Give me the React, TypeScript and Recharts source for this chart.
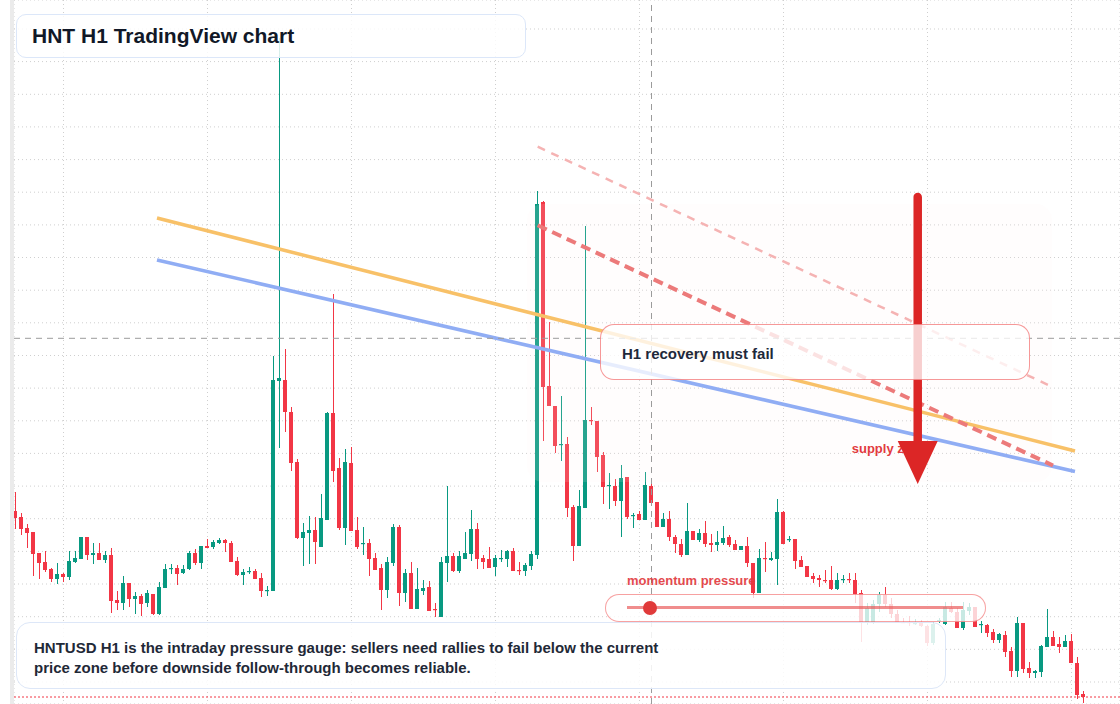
import React from 'react'
import {
  ComposedChart,
  Bar,
  XAxis,
  YAxis,
  CartesianGrid,
  ReferenceLine,
  ReferenceArea,
  ReferenceDot,
} from 'recharts'

// HNTUSD 1h candles (oldest -> newest)
const opens = [
  2.189, 2.183, 2.172, 2.168, 2.147, 2.138, 2.131, 2.121, 2.126, 2.123,
  2.138, 2.141, 2.163, 2.145, 2.147, 2.14, 2.145, 2.1, 2.097, 2.117,
  2.101, 2.104, 2.097, 2.106, 2.086, 2.112, 2.131, 2.132, 2.127, 2.131,
  2.147, 2.137, 2.154, 2.153, 2.157, 2.16, 2.157, 2.139, 2.125, 2.128,
  2.129, 2.122, 2.109, 2.109, 2.319, 2.32, 2.288, 2.238, 2.162, 2.167,
  2.17, 2.153, 2.18, 2.287, 2.232, 2.172, 2.237, 2.17, 2.156, 2.157,
  2.142, 2.132, 2.11, 2.137, 2.173, 2.107, 2.127, 2.091, 2.109, 2.113,
  2.091, 2.083, 2.137, 2.144, 2.129, 2.141, 2.146, 2.171, 2.142, 2.141,
  2.133, 2.141, 2.141, 2.149, 2.13, 2.129, 2.134, 2.145, 2.498, 2.314,
  2.294, 2.255, 2.256, 2.193, 2.154, 2.192, 2.28, 2.279, 2.245, 2.214,
  2.214, 2.199, 2.223, 2.184, 2.186, 2.18, 2.214, 2.198, 2.173, 2.181,
  2.163, 2.156, 2.145, 2.169, 2.16, 2.167, 2.157, 2.155, 2.157, 2.163,
  2.156, 2.15, 2.154, 2.137, 2.107, 2.142, 2.14, 2.141, 2.188, 2.16,
  2.161, 2.14, 2.134, 2.124, 2.122, 2.12, 2.12, 2.111, 2.12, 2.121,
  2.12, 2.107, 2.077, 2.078, 2.096, 2.105, 2.096, 2.086, 2.078, 2.078,
  2.076, 2.077, 2.074, 2.057, 2.079, 2.076, 2.092, 2.088, 2.072, 2.089,
  2.093, 2.075, 2.075, 2.068, 2.06, 2.065, 2.049, 2.029, 2.077, 2.032,
  2.027, 2.028, 2.053, 2.063, 2.056, 2.053, 2.059, 2.037, 2.006,
]
const highs = [
  2.208, 2.187, 2.176, 2.168, 2.147, 2.149, 2.132, 2.137, 2.127, 2.149,
  2.149, 2.163, 2.163, 2.157, 2.157, 2.149, 2.152, 2.109, 2.124, 2.117,
  2.108, 2.106, 2.11, 2.106, 2.118, 2.136, 2.136, 2.135, 2.135, 2.149,
  2.151, 2.154, 2.161, 2.16, 2.162, 2.161, 2.159, 2.143, 2.131, 2.133,
  2.131, 2.127, 2.114, 2.344, 2.662, 2.351, 2.293, 2.241, 2.177, 2.184,
  2.183, 2.206, 2.288, 2.406, 2.242, 2.251, 2.253, 2.183, 2.173, 2.161,
  2.147, 2.136, 2.143, 2.176, 2.175, 2.131, 2.138, 2.132, 2.12, 2.119,
  2.097, 2.143, 2.214, 2.147, 2.149, 2.168, 2.19, 2.177, 2.145, 2.153,
  2.145, 2.15, 2.15, 2.152, 2.138, 2.137, 2.149, 2.509, 2.499, 2.378,
  2.294, 2.304, 2.263, 2.195, 2.21, 2.474, 2.293, 2.279, 2.248, 2.227,
  2.221, 2.235, 2.223, 2.187, 2.189, 2.228, 2.217, 2.198, 2.187, 2.189,
  2.165, 2.161, 2.197, 2.169, 2.171, 2.179, 2.166, 2.169, 2.174, 2.165,
  2.16, 2.154, 2.163, 2.137, 2.151, 2.158, 2.148, 2.201, 2.189, 2.164,
  2.161, 2.144, 2.134, 2.127, 2.125, 2.13, 2.134, 2.127, 2.125, 2.127,
  2.127, 2.11, 2.097, 2.1, 2.108, 2.113, 2.102, 2.09, 2.082, 2.084,
  2.081, 2.08, 2.075, 2.078, 2.082, 2.098, 2.098, 2.092, 2.098, 2.097,
  2.093, 2.079, 2.076, 2.071, 2.067, 2.069, 2.053, 2.083, 2.077, 2.038,
  2.03, 2.055, 2.091, 2.069, 2.063, 2.065, 2.066, 2.043, 2.009,
]
const lows = [
  2.171, 2.165, 2.152, 2.124, 2.121, 2.128, 2.118, 2.116, 2.118, 2.12,
  2.137, 2.141, 2.14, 2.136, 2.14, 2.137, 2.087, 2.09, 2.09, 2.093,
  2.086, 2.084, 2.093, 2.085, 2.085, 2.112, 2.126, 2.115, 2.126, 2.13,
  2.135, 2.131, 2.152, 2.151, 2.156, 2.148, 2.138, 2.124, 2.115, 2.126,
  2.121, 2.103, 2.104, 2.109, 2.252, 2.268, 2.229, 2.161, 2.134, 2.136,
  2.136, 2.153, 2.18, 2.218, 2.17, 2.155, 2.169, 2.151, 2.145, 2.124,
  2.13, 2.09, 2.102, 2.134, 2.094, 2.098, 2.091, 2.091, 2.105, 2.089,
  2.083, 2.083, 2.118, 2.128, 2.127, 2.141, 2.139, 2.131, 2.131, 2.132,
  2.124, 2.138, 2.133, 2.129, 2.125, 2.124, 2.13, 2.141, 2.259, 2.294,
  2.247, 2.239, 2.183, 2.139, 2.154, 2.192, 2.275, 2.228, 2.196, 2.191,
  2.194, 2.163, 2.181, 2.172, 2.18, 2.18, 2.195, 2.173, 2.173, 2.159,
  2.147, 2.143, 2.145, 2.16, 2.158, 2.153, 2.148, 2.149, 2.155, 2.153,
  2.15, 2.15, 2.133, 2.102, 2.107, 2.128, 2.139, 2.115, 2.156, 2.158,
  2.131, 2.133, 2.123, 2.117, 2.113, 2.117, 2.11, 2.11, 2.117, 2.117,
  2.097, 2.058, 2.075, 2.076, 2.088, 2.093, 2.082, 2.077, 2.077, 2.074,
  2.075, 2.073, 2.054, 2.055, 2.077, 2.075, 2.087, 2.072, 2.07, 2.085,
  2.073, 2.067, 2.063, 2.057, 2.057, 2.043, 2.023, 2.023, 2.027, 2.022,
  2.022, 2.023, 2.053, 2.054, 2.047, 2.053, 2.037, 2.001, 1.997,
]
const closes = [
  2.182, 2.171, 2.167, 2.146, 2.137, 2.13, 2.121, 2.126, 2.123, 2.139,
  2.142, 2.163, 2.145, 2.147, 2.14, 2.145, 2.099, 2.097, 2.117, 2.101,
  2.104, 2.096, 2.107, 2.086, 2.113, 2.131, 2.132, 2.126, 2.131, 2.147,
  2.137, 2.154, 2.152, 2.158, 2.16, 2.157, 2.138, 2.125, 2.128, 2.129,
  2.121, 2.109, 2.11, 2.32, 2.322, 2.288, 2.237, 2.162, 2.168, 2.17,
  2.158, 2.182, 2.287, 2.229, 2.172, 2.238, 2.169, 2.153, 2.157, 2.141,
  2.13, 2.11, 2.138, 2.173, 2.107, 2.127, 2.091, 2.111, 2.112, 2.089,
  2.09, 2.138, 2.144, 2.129, 2.144, 2.147, 2.171, 2.141, 2.138, 2.132,
  2.142, 2.142, 2.149, 2.129, 2.129, 2.135, 2.146, 2.496, 2.313, 2.294,
  2.254, 2.256, 2.192, 2.154, 2.194, 2.28, 2.279, 2.243, 2.213, 2.215,
  2.199, 2.222, 2.183, 2.185, 2.18, 2.215, 2.197, 2.173, 2.181, 2.163,
  2.156, 2.145, 2.169, 2.16, 2.167, 2.156, 2.155, 2.158, 2.162, 2.155,
  2.15, 2.154, 2.137, 2.107, 2.142, 2.141, 2.142, 2.188, 2.156, 2.161,
  2.139, 2.133, 2.123, 2.121, 2.12, 2.119, 2.111, 2.12, 2.121, 2.12,
  2.106, 2.078, 2.092, 2.096, 2.105, 2.096, 2.086, 2.078, 2.077, 2.077,
  2.077, 2.074, 2.057, 2.076, 2.08, 2.093, 2.088, 2.072, 2.09, 2.093,
  2.073, 2.076, 2.067, 2.06, 2.066, 2.048, 2.029, 2.077, 2.031, 2.027,
  2.029, 2.054, 2.063, 2.054, 2.053, 2.059, 2.037, 2.005, 2.003,
]

// grid positions (price axis is not labelled in the screenshot)
const priceTicks = [
  2.671, 2.6384, 2.6057, 2.5731, 2.5404, 2.5078, 2.4751, 2.4425, 2.4098, 2.3772, 2.3445,
  2.3119, 2.2792, 2.2466, 2.2139, 2.1813, 2.1486, 2.116, 2.0833, 2.0507, 2.018,
]
const barTicks = [8, 32, 56, 80, 104, 128, 152, 176]

// drawings, in [bar index, price]
const orangeTrend = [[23.58, 2.482], [176.58, 2.249]]
const blueTrend = [[23.58, 2.44], [176.58, 2.2285]]
const supplyTop = [[87.03, 2.5533], [172.75, 2.3133]]
const supplyBottom = [[87.03, 2.4747], [172.92, 2.2345]]
const supplyZone = { x1: 85.25, x2: 172.75, y1: 2.218, y2: 2.496 }
const arrowBar = 150.37
const arrowFrom = 2.503
const arrowTip = 2.216
const zoneLabel = [139.37, 2.247]
const crosshair = { bar: 106, price: 2.3617 }

const candles = opens.map((o, i) => ({
  i,
  open: o,
  high: highs[i],
  low: lows[i],
  close: closes[i],
}))
const lastClose = closes[closes.length - 1]

const UP = '#089981'
const DOWN = '#f23645'
const FONT = '"Liberation Sans", Arial, Helvetica, sans-serif'

function Candle(props: any) {
  let { x, y, width, height, payload } = props
  if (height < 0) {
    y += height
    height = -height
  }
  const { open, close, high, low } = payload
  const color = close >= open ? UP : DOWN
  const span = high - low || 1e-9
  const py = (p: number) => y + ((high - p) / span) * height
  const cx = Math.floor(x + width / 2) + 0.5
  const top = py(Math.max(open, close))
  const bot = py(Math.min(open, close))
  return (
    <g>
      <line x1={cx} x2={cx} y1={y} y2={y + height} stroke={color} strokeWidth={1} />
      <rect x={cx - 2.5} y={top} width={4} height={Math.max(bot - top, 1.2)} fill={color} />
    </g>
  )
}

const seg = (pts: number[][]) => pts.map(([x, y]) => ({ x, y }))

export default function App() {
  return (
    <div style={{ position: 'relative', width: 1120, height: 704, background: '#fff', overflow: 'hidden', fontFamily: FONT }}>
      <style>{'body{margin:0}'}</style>
      <ComposedChart
        width={1120}
        height={704}
        data={candles}
        margin={{ top: 0, right: 0, bottom: 0, left: 14 }}
      >
        <CartesianGrid stroke="#cfcfcf" strokeDasharray="1 3" />
        <XAxis type="number" dataKey="i" domain={[-0.25, 184.0833]} ticks={barTicks} allowDataOverflow hide />
        <YAxis type="number" domain={[1.996, 2.7]} ticks={priceTicks} allowDataOverflow hide />
        <Bar
          dataKey={(d: any) => [d.low, d.high]}
          barSize={4}
          shape={<Candle />}
          isAnimationActive={false}
        />
        <ReferenceArea
          x1={supplyZone.x1}
          x2={supplyZone.x2}
          y1={supplyZone.y1}
          y2={supplyZone.y2}
          fill="#fff2ec"
          fillOpacity={0.13}
          stroke="none"
          radius={16}
          zIndex={350}
        />
        <ReferenceLine segment={seg(orangeTrend)} stroke="#f8c168" strokeWidth={3.5} zIndex={400} />
        <ReferenceLine segment={seg(blueTrend)} stroke="#90adf4" strokeWidth={3.5} zIndex={400} />
        <ReferenceLine segment={seg(supplyTop)} stroke="#f5b3b3" strokeWidth={2.5} strokeDasharray="8 7" zIndex={400} />
        <ReferenceLine segment={seg(supplyBottom)} stroke="#ec7a7a" strokeWidth={4} strokeDasharray="10 6" zIndex={400} />
        <ReferenceLine y={lastClose} stroke={DOWN} strokeDasharray="2 2" strokeWidth={1} zIndex={400} />
        <ReferenceLine x={crosshair.bar} stroke="#9b9b9b" strokeDasharray="6 5" strokeWidth={1} zIndex={450} />
        <ReferenceLine y={crosshair.price} stroke="#9b9b9b" strokeDasharray="6 5" strokeWidth={1} zIndex={450} />
        <ReferenceDot
          x={zoneLabel[0]}
          y={zoneLabel[1]}
          zIndex={500}
          shape={(p: any) => (
            <text x={p.cx} y={p.cy} fill="#e23b3f" fontSize={13} fontWeight={700} fontFamily={FONT}>
              supply zone
            </text>
          )}
        />
        <ReferenceLine
          segment={[{ x: arrowBar, y: arrowFrom }, { x: arrowBar, y: arrowTip + 0.035 }]}
          stroke="#dc2626"
          strokeWidth={8.5}
          strokeLinecap="round"
          zIndex={550}
        />
        <ReferenceDot
          x={arrowBar}
          y={arrowTip}
          zIndex={560}
          shape={(p: any) => (
            <polygon
              points={`${p.cx - 20},${p.cy - 43} ${p.cx + 20},${p.cy - 43} ${p.cx},${p.cy}`}
              fill="#dc2626"
            />
          )}
        />
      </ComposedChart>

      {/* left price-scale edge */}
      <div style={{ position: 'absolute', left: 10, top: 0, width: 4, height: 704, background: '#ebebeb' }} />

      {/* title */}
      <div
        style={{
          position: 'absolute', left: 16, top: 14, width: 510, height: 44, boxSizing: 'border-box',
          border: '1.5px solid #dce7f9', borderRadius: 10, background: 'rgba(255,255,255,0.84)',
        }}
      />
      <div style={{ position: 'absolute', left: 32, top: 23.5, fontSize: 21, lineHeight: '24px', fontWeight: 700, color: '#111827', whiteSpace: 'nowrap' }}>
        HNT H1 TradingView chart
      </div>

      {/* callout */}
      <div
        style={{
          position: 'absolute', left: 600, top: 324, width: 430, height: 56, boxSizing: 'border-box',
          border: '1px solid rgba(239,68,68,0.55)', borderRadius: 14, background: 'rgba(255,255,255,0.78)',
        }}
      />
      <div style={{ position: 'absolute', left: 622, top: 344, fontSize: 15, lineHeight: '20px', fontWeight: 700, color: '#1e293b', whiteSpace: 'nowrap' }}>
        H1 recovery must fail
      </div>

      {/* momentum gauge */}
      <div style={{ position: 'absolute', left: 627, top: 573, fontSize: 13, lineHeight: '16px', fontWeight: 700, color: '#e23b3f', opacity: 0.92, whiteSpace: 'nowrap' }}>
        momentum pressure
      </div>
      <div
        style={{
          position: 'absolute', left: 605, top: 594, width: 381, height: 28, boxSizing: 'border-box',
          border: '1.5px solid rgba(239,68,68,0.5)', borderRadius: 14, background: 'rgba(255,255,255,0.78)',
        }}
      />
      <div style={{ position: 'absolute', left: 627, top: 606, width: 336, height: 3, background: 'rgba(232,80,80,0.65)' }} />
      <div style={{ position: 'absolute', left: 643, top: 600.5, width: 14, height: 14, borderRadius: 7, background: '#e03a3a' }} />

      {/* footnote */}
      <div
        style={{
          position: 'absolute', left: 16, top: 622, width: 930, height: 67, boxSizing: 'border-box',
          border: '1.5px solid #dde7f8', borderRadius: 14, background: 'rgba(255,255,255,0.86)',
        }}
      />
      <div style={{ position: 'absolute', left: 34, top: 638, fontSize: 15, lineHeight: '20px', fontWeight: 700, color: '#1f2937', whiteSpace: 'nowrap' }}>
        <div>HNTUSD H1 is the intraday pressure gauge: sellers need rallies to fail below the current</div>
        <div>price zone before downside follow-through becomes reliable.</div>
      </div>
    </div>
  )
}
